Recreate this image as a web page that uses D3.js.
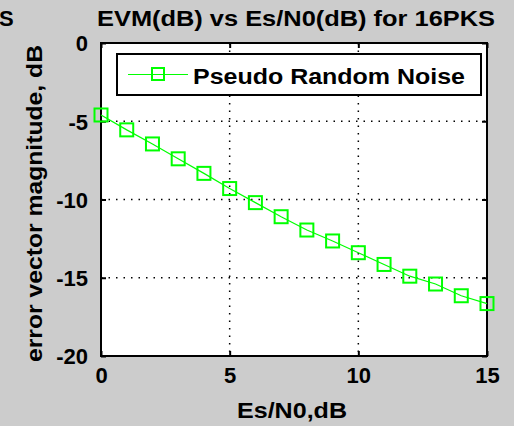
<!DOCTYPE html>
<html>
<head>
<meta charset="utf-8">
<script src="https://cdn.jsdelivr.net/npm/d3@7"></script>
<style>
  body { margin: 0; background: #cccccc; }
  svg { display: block; }
  text { font-family: "Liberation Sans", Arial, sans-serif; font-weight: bold; fill: #000; }
</style>
</head>
<body>
<svg id="chart" width="514" height="426"></svg>
<script>
// values
var esn0 = [0, 1, 2, 3, 4, 5, 6, 7, 8, 9, 10, 11, 12, 13, 14, 15];
var evm = [-4.6, -5.55, -6.45, -7.4, -8.33, -9.3, -10.2, -11.1, -11.95, -12.65, -13.4, -14.15, -14.9, -15.4, -16.15, -16.65];
var xTicks = [0, 5, 10, 15];
var yTicks = [0, -5, -10, -15, -20];
var seriesName = "Pseudo Random Noise";

var svg = d3.select("#chart");
var margin = {left: 101, right: 27, top: 43, bottom: 70};
var W = 514, H = 426;
var w = W - margin.left - margin.right, h = H - margin.top - margin.bottom;

var xscale = d3.scaleLinear().domain([0, 15]).range([0, w]);
var yscale = d3.scaleLinear().domain([-20, 0]).range([h, 0]);

// cut-off title of the neighbouring plot
svg.append("text").attr("x", -1).attr("y", 26).style("font-size", "22px").text("S");

svg.append("text")
    .attr("x", 97).attr("y", 26)
    .attr("textLength", 398).attr("lengthAdjust", "spacingAndGlyphs")
    .style("font-size", "22px")
    .text("EVM(dB) vs Es/N0(dB) for 16PKS");

var g = svg.append("g").attr("transform", "translate(" + margin.left + "," + margin.top + ")");

g.append("rect").attr("width", w).attr("height", h).attr("fill", "#fff");

// dotted grid
g.selectAll(".vgrid").data([5, 10]).enter().append("line")
    .attr("x1", d => xscale(d)).attr("x2", d => xscale(d))
    .attr("y1", 0).attr("y2", h)
    .attr("stroke", "#000").attr("stroke-width", 1.5).attr("stroke-dasharray", "1.5,6");
g.selectAll(".hgrid").data([-5, -10, -15]).enter().append("line")
    .attr("y1", d => yscale(d)).attr("y2", d => yscale(d))
    .attr("x1", 0).attr("x2", w)
    .attr("stroke", "#000").attr("stroke-width", 1.5).attr("stroke-dasharray", "1.5,6");

// axes, ticks inside
var fmt = d => String(d);
var xb = g.append("g").attr("transform", "translate(0," + h + ")")
    .call(d3.axisBottom(xscale).tickValues(xTicks).tickFormat(fmt).tickSizeInner(-5).tickSizeOuter(0).tickPadding(11));
var xt = g.append("g")
    .call(d3.axisTop(xscale).tickValues(xTicks).tickSizeInner(-5).tickSizeOuter(0).tickFormat(""));
var yl = g.append("g")
    .call(d3.axisLeft(yscale).tickValues(yTicks).tickFormat(fmt).tickSizeInner(-5).tickSizeOuter(0).tickPadding(13));
var yr = g.append("g").attr("transform", "translate(" + w + ",0)")
    .call(d3.axisRight(yscale).tickValues(yTicks).tickSizeInner(-5).tickSizeOuter(0).tickFormat(""));

[xb, xt, yl, yr].forEach(function(a) {
    a.select(".domain").remove();
    a.selectAll("line").attr("stroke", "#000").attr("stroke-width", 2);
    a.selectAll("text").style("font-size", "22px").style("font-family", "Liberation Sans, Arial, sans-serif")
        .style("font-weight", "bold").attr("fill", "#000");
});
yl.selectAll("text").attr("dy", "0.36em");
xb.selectAll("text").attr("dy", "0.72em");

g.append("rect").attr("width", w).attr("height", h)
    .attr("fill", "none").attr("stroke", "#000").attr("stroke-width", 2);

// series
var line = d3.line().x((d, i) => xscale(esn0[i])).y(d => yscale(d));
g.append("path").datum(evm).attr("d", line)
    .attr("fill", "none").attr("stroke", "#00ff00").attr("stroke-width", 1.2);
g.selectAll(".mk").data(evm).enter().append("rect")
    .attr("x", (d, i) => xscale(esn0[i]) - 6.5).attr("y", d => yscale(d) - 6.5)
    .attr("width", 13).attr("height", 13)
    .attr("fill", "none").attr("stroke", "#00ff00").attr("stroke-width", 2);

// legend
var lg = svg.append("g");
lg.append("rect").attr("x", 117).attr("y", 54).attr("width", 364).attr("height", 41)
    .attr("fill", "#fff").attr("stroke", "#000").attr("stroke-width", 2);
lg.append("line").attr("x1", 128).attr("x2", 188).attr("y1", 74.5).attr("y2", 74.5)
    .attr("stroke", "#00ff00").attr("stroke-width", 1.2);
lg.append("rect").attr("x", 152).attr("y", 68).attr("width", 12).attr("height", 12)
    .attr("fill", "none").attr("stroke", "#00ff00").attr("stroke-width", 2);
lg.append("text").attr("x", 193).attr("y", 84)
    .attr("textLength", 272).attr("lengthAdjust", "spacingAndGlyphs")
    .style("font-size", "22px").text(seriesName);

// axis labels
svg.append("text")
    .attr("x", 237).attr("y", 418)
    .attr("textLength", 110).attr("lengthAdjust", "spacingAndGlyphs")
    .style("font-size", "22px")
    .text("Es/N0,dB");
svg.append("text")
    .attr("transform", "translate(42,362) rotate(-90)")
    .attr("textLength", 317).attr("lengthAdjust", "spacingAndGlyphs")
    .style("font-size", "22px")
    .text("error vector magnitude, dB");
</script>
</body>
</html>
